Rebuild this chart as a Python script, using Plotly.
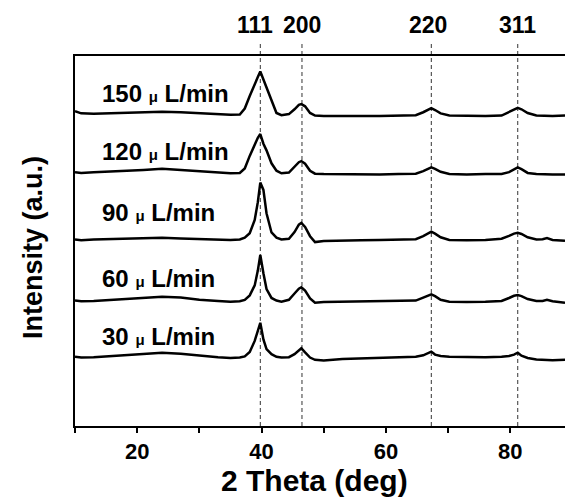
import plotly.graph_objects as go

# 2-theta sampling grid (deg)
two_theta = [10, 11, 13, 15, 18, 21, 24, 27, 30, 33,
             35, 36.5, 37.3, 38.1, 38.9, 39.4, 39.8, 40.3, 40.8, 41.6,
             42.4, 43.2, 44.4, 45.3, 46.0, 46.4, 47.0, 47.8, 48.6, 50,
             53, 56, 59, 62, 64.8, 66.0, 66.8, 67.3, 67.9, 68.8,
             70.2, 73, 76, 78.6, 79.8, 80.6, 81.2, 81.8, 82.8, 84.2,
             85.2, 85.9, 86.8, 88.8]

# stacked intensity curves (a.u., offsets included)
i_150 = [85.1, 84.5, 84.4, 84.5, 84.6, 84.8, 84.9, 84.8, 84.5, 84.2,
         84.1, 84.2, 85.8, 89.2, 92.6, 94.3, 95.8, 93.6, 91.3, 87.8,
         84.6, 84.0, 84.3, 85.6, 86.8, 87.0, 86.4, 84.6, 83.9, 83.8,
         83.9, 83.8, 83.8, 83.9, 84.0, 84.8, 85.6, 85.9, 85.4, 84.5,
         83.9, 83.8, 83.8, 83.9, 84.9, 85.6, 86.0, 85.6, 84.6, 83.9,
         83.8, 83.9, 83.8, 83.9]
i_120 = [68.6, 68.4, 68.6, 68.7, 68.9, 69.2, 69.5, 69.2, 68.8, 68.5,
         68.3, 68.4, 69.6, 73.0, 76.3, 77.9, 78.9, 76.3, 74.5, 71.0,
         69.0, 68.3, 68.5, 70.0, 71.3, 71.6, 70.9, 69.0, 68.2, 68.1,
         68.0, 68.1, 68.0, 68.1, 68.2, 68.9, 69.6, 69.9, 69.5, 68.7,
         68.1, 68.0, 68.1, 68.1, 68.6, 69.4, 69.9, 69.4, 68.4, 68.1,
         68.0, 68.1, 68.0, 68.0]
i_90 = [50.4, 50.2, 50.4, 50.5, 50.6, 50.8, 50.9, 50.7, 50.5, 50.4,
        50.3, 50.4, 50.9, 52.1, 55.7, 60.5, 65.8, 63.8, 57.5, 52.3,
        50.9, 50.4, 50.6, 52.4, 54.4, 54.9, 53.8, 51.3, 49.7, 50.0,
        50.2, 50.2, 50.3, 50.3, 50.5, 51.3, 52.1, 52.5, 52.0, 51.0,
        50.3, 50.2, 50.3, 50.6, 51.4, 52.0, 52.2, 51.9, 51.0, 50.4,
        50.5, 50.8, 50.3, 50.1]
i_60 = [33.9, 33.7, 33.8, 34.0, 34.2, 34.6, 34.9, 34.7, 34.1, 33.8,
        33.6, 33.7, 34.1, 35.3, 38.0, 42.0, 46.2, 41.3, 37.0, 34.6,
        33.9, 33.6, 34.1, 35.8, 37.1, 37.5, 36.6, 34.5, 33.3, 33.5,
        33.6, 33.6, 33.6, 33.7, 33.9, 34.7, 35.3, 35.6, 35.1, 34.1,
        33.6, 33.5, 33.6, 33.8, 34.6, 35.2, 35.4, 35.1, 34.3, 33.8,
        33.8, 34.1, 33.7, 33.3]
i_30 = [18.7, 18.5, 18.6, 18.8, 19.0, 19.4, 19.8, 19.5, 19.0, 18.6,
        18.4, 18.5, 18.8, 20.0, 23.0, 25.8, 27.9, 23.4, 20.8, 19.4,
        18.7, 18.5, 18.6, 19.4, 20.6, 21.0, 19.9, 18.5, 17.9, 17.7,
        18.1, 18.3, 18.4, 18.5, 18.7, 19.1, 19.6, 20.1, 19.3, 18.9,
        18.7, 18.6, 18.6, 18.7, 18.9, 19.3, 19.8, 19.0, 18.4, 18.0,
        17.9, 18.0, 17.8, 17.9]

series = [i_150, i_120, i_90, i_60, i_30]
flow_rates = ["150", "120", "90", "60", "30"]
label_y = [90.0, 74.1, 57.8, 40.0, 24.1]
label_x = 14.0

# reflections
hkl_labels = ["111", "200", "220", "311"]
hkl_pos = [39.8, 46.5, 67.3, 81.2]
hkl_text_x = [39.0, 46.5, 66.8, 81.1]

x_ticks = [10, 20, 30, 40, 50, 60, 70, 80]
x_ticktext = ["", "20", "", "40", "", "60", "", "80"]

FONT = "Liberation Sans, Arial, sans-serif"

fig = go.Figure()
for ys in series:
    fig.add_trace(go.Scatter(x=two_theta, y=ys, mode="lines",
                             line=dict(color="black", width=2.5),
                             showlegend=False, hoverinfo="skip"))

shapes = []
for p in hkl_pos:
    shapes.append(dict(type="line", xref="x", yref="paper", x0=p, x1=p,
                       y0=0, y1=1.038, layer="below",
                       line=dict(color="#333333", width=1, dash="4px,3px")))

annotations = []
for t, xp in zip(hkl_labels, hkl_text_x):
    annotations.append(dict(x=xp, y=1.084, xref="x", yref="paper", text=t,
                            showarrow=False, xanchor="center", yanchor="middle",
                            font=dict(family=FONT, size=23, color="black", weight="bold")))
for fr, yv in zip(flow_rates, label_y):
    annotations.append(dict(x=label_x, y=yv, xref="x", yref="y",
                            text=fr + " <span style='font-size:15px'>\u03bc</span> L/min",
                            showarrow=False, xanchor="left", yanchor="middle",
                            font=dict(family=FONT, size=24, color="black", weight="bold")))
annotations.append(dict(x=-0.087, y=0.482, xref="paper", yref="paper",
                        text="Intensity (a.u.)", textangle=-90, showarrow=False,
                        xanchor="center", yanchor="middle",
                        font=dict(family=FONT, size=27, color="black", weight="bold")))
annotations.append(dict(x=48.5, y=-0.197, xref="x", yref="paper",
                        text="2 Theta (deg)", showarrow=False,
                        xanchor="center", yanchor="bottom",
                        font=dict(family=FONT, size=30, color="black", weight="bold")))

fig.update_layout(
    width=565, height=501,
    margin=dict(l=75, r=0, t=56, b=75),
    paper_bgcolor="white", plot_bgcolor="white",
    shapes=shapes, annotations=annotations,
    xaxis=dict(range=[10, 88.8], tickmode="array", tickvals=x_ticks, ticktext=x_ticktext,
               ticks="outside", ticklen=5, tickwidth=1.5, tickcolor="black",
               showline=True, linecolor="black", linewidth=2, mirror=True,
               showgrid=False, zeroline=False,
               tickfont=dict(family=FONT, size=22, color="black", weight="bold")),
    yaxis=dict(range=[0, 100], showticklabels=False, ticks="",
               showline=True, linecolor="black", linewidth=2, mirror=False,
               showgrid=False, zeroline=False),
)

fig.write_html("out.html", config={"displayModeBar": False},
               post_script="document.body.style.margin='0';")
